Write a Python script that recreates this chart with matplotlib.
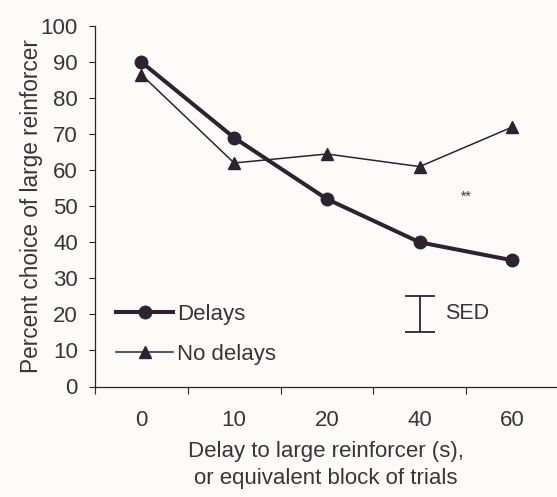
import matplotlib
matplotlib.use('Agg')
import matplotlib.pyplot as plt

plt.rcParams['font.family'] = ['Liberation Sans', 'DejaVu Sans']

# data
categories = ['0', '10', '20', '40', '60']
delays = [90, 69, 52, 40, 35]
no_delays = [86.5, 62, 64.5, 61, 72]
sed_low, sed_high = 15, 25

ink = '#2d2330'
txt = '#3a3439'
bg = '#fcfbfa'

fig = plt.figure(figsize=(5.57, 4.97), dpi=100, facecolor=bg)
# axes box: y-axis at x=95px, x-axis at y=386px, top at 26px
ax = fig.add_axes([95/557, (497-386.5)/497, 1 - 95/557, 360.5/497])
ax.set_facecolor(bg)

x = list(range(len(categories)))
ax.plot(x, delays, color=ink, lw=2.9, marker='o', ms=9, label='Delays')
ax.plot(x, no_delays, color=ink, lw=1.1, marker='^', ms=9, label='No delays')

# SED bar
ax.errorbar([3], [(sed_low + sed_high) / 2], yerr=[[(sed_high - sed_low) / 2]],
            fmt='none', ecolor=ink, elinewidth=1.3, capsize=11, capthick=1.3)
ax.text(3.27, 20.3, 'SED', fontsize=15.5, color=txt, va='center', ha='left')
ax.text(3.5, 51.5, '**', fontsize=10, color=txt, ha='center', va='baseline')

ax.set_ylim(0, 100)
ax.set_xlim(-0.5, 4.48)
ax.set_yticks(range(0, 101, 10))
ax.set_xticks(x)
ax.set_xticklabels(categories)
ax.set_xticks([i - 0.5 for i in range(len(categories))], minor=True)
ax.tick_params(axis='x', which='major', length=0, pad=17, labelsize=16, labelcolor=txt)
ax.tick_params(axis='x', which='minor', length=5, direction='out', color=ink, width=0.8)
ax.tick_params(axis='y', length=4.3, direction='out', color=ink, width=0.8,
               labelsize=16, labelcolor=txt, pad=8)

for side in ['top', 'right']:
    ax.spines[side].set_visible(False)
for side in ['left', 'bottom']:
    ax.spines[side].set_color(ink)
    ax.spines[side].set_linewidth(0.9)

ax.set_ylabel('Percent choice of large reinforcer', fontsize=16.3, color=txt, labelpad=-2)
ax.set_xlabel('Delay to large reinforcer (s),\nor equivalent block of trials',
              fontsize=16, color=txt, labelpad=7, linespacing=1.4)

ax.legend(loc='center left', bbox_to_anchor=(0.0456, 0.145), frameon=False,
          borderaxespad=0, borderpad=0, fontsize=16, handlelength=2.57,
          handletextpad=0.18, labelspacing=0.85, labelcolor=txt)

fig.savefig('out.png', dpi=100, facecolor=fig.get_facecolor())
